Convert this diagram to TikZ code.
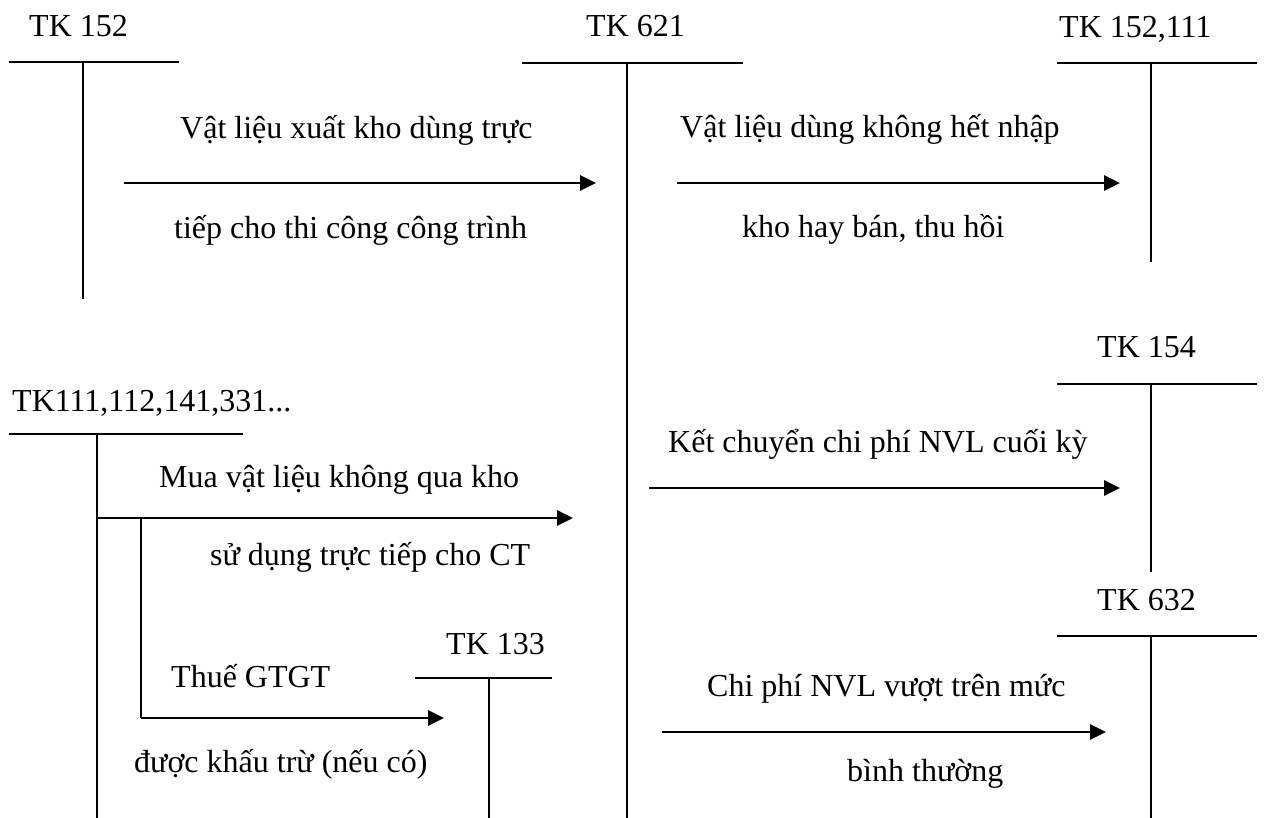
\documentclass[tikz,border=0pt]{standalone}
\usepackage{fontspec}
\setmainfont{Liberation Serif}
\usetikzlibrary{arrows.meta}

\tikzset{
  lbl/.style={anchor=base west, inner sep=0pt, font=\fontsize{32}{38}\selectfont},
  tline/.style={line width=1.8pt},
  flow/.style={line width=2.8pt, -{Triangle[length=16pt,width=15pt]}},
  branch/.style={line width=2.8pt},
}

\begin{document}
\begin{tikzpicture}[x=1pt, y=-1pt]
\useasboundingbox (0,0) rectangle (1267,818);

% ---- T-accounts: title, top rule, stem ----
% TK 152
\node[lbl] (t152) at (29,37) {TK 152};
\coordinate (t152l) at (9,62);  \coordinate (t152r) at (179,62);
\coordinate (t152s) at (83,62); \coordinate (t152e) at (83,299);
\draw[tline] (t152l) -- (t152r);
\draw[tline] (t152s) -- (t152e);

% TK 621
\node[lbl] (t621) at (586,37) {TK 621};
\coordinate (t621l) at (522,63);  \coordinate (t621r) at (743,63);
\coordinate (t621s) at (627,63);  \coordinate (t621e) at (627,818);
\draw[tline] (t621l) -- (t621r);
\draw[tline] (t621s) -- (t621e);

% TK 152,111
\node[lbl] (t152b) at (1059,38) {TK 152,111};
\coordinate (t152bl) at (1057,63);  \coordinate (t152br) at (1257,63);
\coordinate (t152bs) at (1151,63);  \coordinate (t152be) at (1151,262);
\draw[tline] (t152bl) -- (t152br);
\draw[tline] (t152bs) -- (t152be);

% TK 154
\node[lbl] (t154) at (1097,358) {TK 154};
\coordinate (t154l) at (1057,384);  \coordinate (t154r) at (1257,384);
\coordinate (t154s) at (1151,384);  \coordinate (t154e) at (1151,572);
\draw[tline] (t154l) -- (t154r);
\draw[tline] (t154s) -- (t154e);

% TK 632
\node[lbl] (t632) at (1097,610) {TK 632};
\coordinate (t632l) at (1057,636);  \coordinate (t632r) at (1257,636);
\coordinate (t632s) at (1151,636);  \coordinate (t632e) at (1151,818);
\draw[tline] (t632l) -- (t632r);
\draw[tline] (t632s) -- (t632e);

% TK 111,112,141,331...
\node[lbl] (t111) at (12,411) {TK111,112,141,331...};
\coordinate (t111l) at (9,434);  \coordinate (t111r) at (243,434);
\coordinate (t111s) at (97,434); \coordinate (t111e) at (97,818);
\draw[tline] (t111l) -- (t111r);
\draw[tline] (t111s) -- (t111e);

% TK 133
\node[lbl] (t133) at (446,654) {TK 133};
\coordinate (t133l) at (415,678);  \coordinate (t133r) at (552,678);
\coordinate (t133s) at (489,678);  \coordinate (t133e) at (489,818);
\draw[tline] (t133l) -- (t133r);
\draw[tline] (t133s) -- (t133e);

% ---- Entries ----
% 152 -> 621
\coordinate (a1s) at (124,183); \coordinate (a1e) at (596,183);
\draw[flow] (a1s) -- (a1e);
\node[lbl] (a1t) at (180,139) {Vật liệu xuất kho dùng trực};
\node[lbl] (a1b) at (174,239) {tiếp cho thi công công trình};

% 621 -> 152,111
\coordinate (a2s) at (677,183); \coordinate (a2e) at (1120,183);
\draw[flow] (a2s) -- (a2e);
\node[lbl] (a2t) at (680,138) {Vật liệu dùng không hết nhập};
\node[lbl] (a2b) at (742,238) {kho hay bán, thu hồi};

% 111... -> 621
\coordinate (a3s) at (97,518); \coordinate (a3e) at (573,518);
\draw[flow] (a3s) -- (a3e);
\node[lbl] (a3t) at (159,487) {Mua vật liệu không qua kho};
\node[lbl] (a3b) at (210,565) {sử dụng trực tiếp cho CT};

% VAT branch -> 133
\coordinate (a4s) at (141,518); \coordinate (a4k) at (141,718);
\coordinate (a4e) at (444,718);
\draw[branch] (a4s) -- (a4k);
\draw[flow] (a4k) -- (a4e);
\node[lbl] (a4t) at (171,687) {Thuế GTGT};
\node[lbl] (a4b) at (134,772) {được khấu trừ (nếu có)};

% 621 -> 154
\coordinate (a5s) at (649,488); \coordinate (a5e) at (1120,488);
\draw[flow] (a5s) -- (a5e);
\node[lbl] (a5t) at (668,452) {Kết chuyển chi phí NVL cuối kỳ};

% 621 -> 632
\coordinate (a6s) at (662,732); \coordinate (a6e) at (1106,732);
\draw[flow] (a6s) -- (a6e);
\node[lbl] (a6t) at (707,696) {Chi phí NVL vượt trên mức};
\node[lbl] (a6b) at (847,781) {bình thường};

\end{tikzpicture}
\end{document}
